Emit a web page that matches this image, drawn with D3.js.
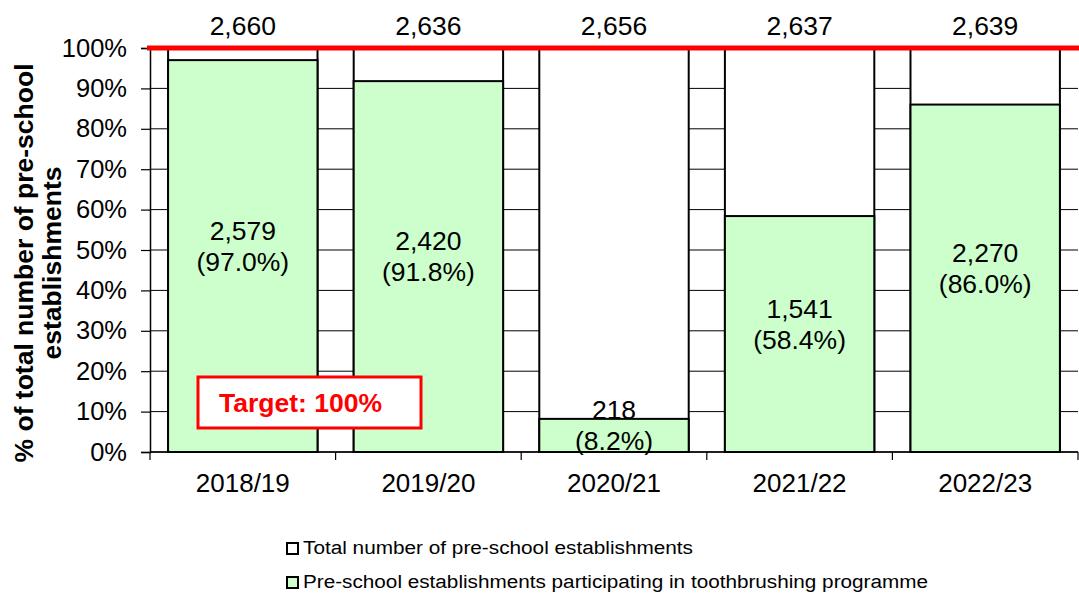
<!DOCTYPE html>
<html>
<head>
<meta charset="utf-8">
<script src="https://cdn.jsdelivr.net/npm/d3@7"></script>
<style>
  body { margin: 0; background: #fff; }
  svg { display: block; font-family: "Liberation Sans", Arial, sans-serif; }
</style>
</head>
<body>
<svg id="chart"></svg>
<script>
const years = ["2018/19", "2019/20", "2020/21", "2021/22", "2022/23"];
const totals = [2660, 2636, 2656, 2637, 2639];
const participating = [2579, 2420, 218, 1541, 2270];
const percents = [97.0, 91.8, 8.2, 58.4, 86.0];
const yTicks = [0, 10, 20, 30, 40, 50, 60, 70, 80, 90, 100];
const target = 100;
const legendLabels = ["Total number of pre-school establishments",
                      "Pre-school establishments participating in toothbrushing programme"];

const w = 1079, h = 593;
const plot = { left: 150, right: 1078, top: 48, bottom: 452 };
const green = "#ccffcc";
const fmt = d3.format(",");

const svg = d3.select("#chart").attr("width", w).attr("height", h);

const x = d3.scaleBand()
    .domain(years)
    .range([plot.left, plot.right])
    .paddingInner(0.195)
    .paddingOuter(0.0975);

const y = d3.scaleLinear()
    .domain([0, 100])
    .range([plot.bottom, plot.top]);

// gridlines (only visible between the bars)
svg.append("g")
  .selectAll("line")
  .data(yTicks)
  .join("line")
    .attr("x1", plot.left).attr("x2", plot.right)
    .attr("y1", d => y(d)).attr("y2", d => y(d))
    .attr("stroke", "#000").attr("stroke-width", 1);

const data = years.map((yr, i) => ({
  year: yr, total: totals[i], part: participating[i], pct: percents[i]
}));

// total bars (100%)
svg.append("g")
  .selectAll("rect")
  .data(data)
  .join("rect")
    .attr("x", d => x(d.year))
    .attr("y", y(100))
    .attr("width", x.bandwidth())
    .attr("height", y(0) - y(100))
    .attr("fill", "#fff")
    .attr("stroke", "#000").attr("stroke-width", 2);

// participating bars
svg.append("g")
  .selectAll("rect")
  .data(data)
  .join("rect")
    .attr("x", d => x(d.year))
    .attr("y", d => y(d.pct))
    .attr("width", x.bandwidth())
    .attr("height", d => y(0) - y(d.pct))
    .attr("fill", green)
    .attr("stroke", "#000").attr("stroke-width", 2);

// y axis
const yAxis = svg.append("g")
  .attr("transform", `translate(${plot.left},0)`)
  .call(d3.axisLeft(y).tickValues(yTicks).tickSize(9).tickPadding(14).tickFormat(d => d + "%"));
yAxis.select(".domain").attr("stroke", "#000").attr("stroke-width", 1.5);
yAxis.selectAll(".tick line").attr("stroke", "#000").attr("stroke-width", 1.2);
yAxis.selectAll("text")
  .attr("font-size", 25.5).attr("fill", "#000")
  .attr("font-family", "Liberation Sans, Arial, sans-serif");

// x axis: line, boundary ticks, centred labels
svg.append("line")
  .attr("x1", plot.left).attr("x2", plot.right)
  .attr("y1", plot.bottom).attr("y2", plot.bottom)
  .attr("stroke", "#000").attr("stroke-width", 1.5);

svg.append("g")
  .selectAll("line")
  .data(d3.range(years.length + 1))
  .join("line")
    .attr("x1", i => plot.left + i * x.step())
    .attr("x2", i => plot.left + i * x.step())
    .attr("y1", plot.bottom).attr("y2", plot.bottom + 8)
    .attr("stroke", "#000").attr("stroke-width", 1.2);

svg.append("g")
  .selectAll("text")
  .data(years)
  .join("text")
    .attr("x", d => x(d) + x.bandwidth() / 2)
    .attr("y", 492)
    .attr("text-anchor", "middle")
    .attr("font-size", 26)
    .text(d => d);

// target line
svg.append("line")
  .attr("x1", plot.left - 3).attr("x2", w)
  .attr("y1", y(target)).attr("y2", y(target))
  .attr("stroke", "#ff0000").attr("stroke-width", 5);

// totals above the chart
svg.append("g")
  .selectAll("text")
  .data(data)
  .join("text")
    .attr("x", d => x(d.year) + x.bandwidth() / 2)
    .attr("y", 35)
    .attr("text-anchor", "middle")
    .attr("font-size", 26.5)
    .text(d => fmt(d.total));

// labels inside the participating bars
const inner = svg.append("g")
  .selectAll("g")
  .data(data)
  .join("g")
    .attr("transform", d => `translate(${x(d.year) + x.bandwidth() / 2},${(y(d.pct) + y(0)) / 2 - 10})`);
inner.append("text")
  .attr("y", -6.5)
  .attr("text-anchor", "middle")
  .attr("font-size", 26.5)
  .text(d => fmt(d.part));
inner.append("text")
  .attr("y", 24.5)
  .attr("text-anchor", "middle")
  .attr("font-size", 26.5)
  .text(d => `(${d.pct.toFixed(1)}%)`);

// target annotation
const tgt = svg.append("g").attr("transform", "translate(198,377)");
tgt.append("rect")
  .attr("width", 223).attr("height", 51)
  .attr("fill", "#fff")
  .attr("stroke", "#ff0000").attr("stroke-width", 3);
tgt.append("text")
  .attr("x", 21).attr("y", 35)
  .attr("font-size", 26.5).attr("font-weight", "bold")
  .attr("fill", "#ff0000")
  .text(`Target: ${target}%`);

// y axis title
const title = svg.append("text")
  .attr("transform", "translate(0,263) rotate(-90)")
  .attr("text-anchor", "middle")
  .attr("font-size", 26.5).attr("font-weight", "bold");
title.append("tspan").attr("x", 0).attr("y", 33).text("% of total number of pre-school");
title.append("tspan").attr("x", 0).attr("y", 61).text("establishments");

// legend
const legend = svg.append("g")
  .selectAll("g")
  .data(legendLabels)
  .join("g")
    .attr("transform", (d, i) => `translate(287,${543 + i * 34})`);
legend.append("rect")
  .attr("width", 11).attr("height", 11)
  .attr("fill", (d, i) => i === 0 ? "#fff" : green)
  .attr("stroke", "#000").attr("stroke-width", 2);
legend.append("text")
  .attr("x", 16).attr("y", 11)
  .attr("font-size", 18)
  .attr("textLength", (d, i) => i === 0 ? 390 : 625)
  .attr("lengthAdjust", "spacingAndGlyphs")
  .text(d => d);
</script>
</body>
</html>
